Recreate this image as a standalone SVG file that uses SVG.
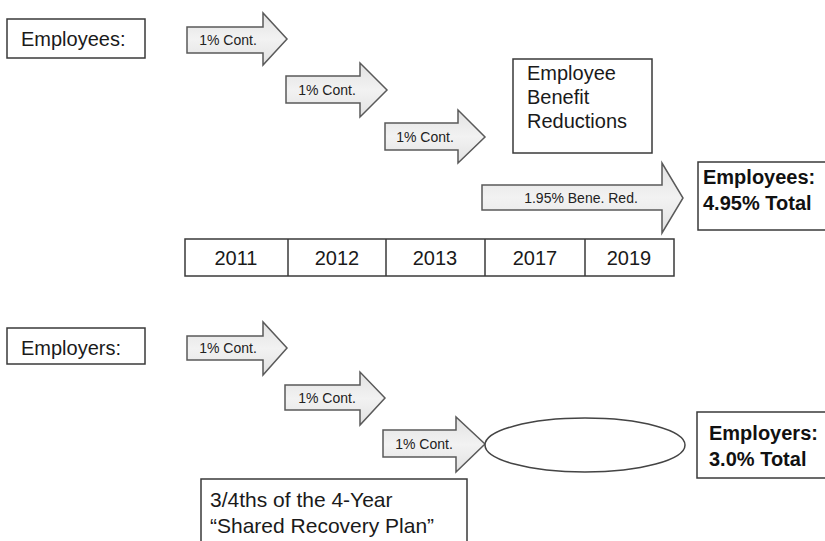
<svg xmlns="http://www.w3.org/2000/svg" width="825" height="541" viewBox="0 0 825 541">
  <defs>
    <linearGradient id="arrowFill" x1="0" y1="0" x2="0" y2="1">
      <stop offset="0" stop-color="#e2e2e2"/>
      <stop offset="0.5" stop-color="#f2f2f2"/>
      <stop offset="1" stop-color="#e2e2e2"/>
    </linearGradient>
  </defs>
  <style>
    .box { fill: #ffffff; stroke: #3a3a3a; stroke-width: 1.5; }
    .arrow { fill: url(#arrowFill); stroke: #5a5a5a; stroke-width: 1.5; stroke-linejoin: miter; }
    .txt { font-family: "Liberation Sans", Arial, sans-serif; font-size: 20px; fill: #1a1a1a; }
    .small { font-family: "Liberation Sans", Arial, sans-serif; font-size: 14px; fill: #222; text-anchor: middle; }
    .bold { font-family: "Liberation Sans", Arial, sans-serif; font-size: 20px; font-weight: bold; fill: #111; }
    .year { font-family: "Liberation Sans", Arial, sans-serif; font-size: 20px; fill: #1a1a1a; text-anchor: middle; }
    .ell { fill: #ffffff; stroke: #444; stroke-width: 1.5; }
  </style>

  <!-- Employees section -->
  <g id="employees-label">
    <rect class="box" x="7" y="19" width="138" height="39"/>
    <text class="txt" x="21" y="46">Employees:</text>
  </g>

  <g id="emp-arrow-2011">
    <path class="arrow" d="M187,27 H263 V13 L287,39 L263,65 V53 H187 Z"/>
    <text class="small" x="228" y="45">1% Cont.</text>
  </g>
  <g id="emp-arrow-2012">
    <path class="arrow" d="M286,76 H360 V63 L387,90 L360,117 V103 H286 Z"/>
    <text class="small" x="327" y="95">1% Cont.</text>
  </g>
  <g id="emp-arrow-2013">
    <path class="arrow" d="M385,123 H458 V110 L485,137 L458,163 V150 H385 Z"/>
    <text class="small" x="425" y="142">1% Cont.</text>
  </g>
  <g id="benefit-reductions">
    <rect class="box" x="513" y="59" width="139" height="94"/>
    <text class="txt" x="527" y="80">Employee</text>
    <text class="txt" x="527" y="104">Benefit</text>
    <text class="txt" x="527" y="128">Reductions</text>
  </g>
  <g id="emp-arrow-bene">
    <path class="arrow" d="M482,185 H662 V163 L683,198 L662,233 V210 H482 Z"/>
    <text class="small" x="581" y="203">1.95% Bene. Red.</text>
  </g>
  <g id="employees-total">
    <rect class="box" x="698" y="162" width="130" height="68"/>
    <text class="bold" x="703" y="184">Employees:</text>
    <text class="bold" x="703" y="210">4.95% Total</text>
  </g>

  <!-- Years -->
  <g id="years">
    <rect class="box" x="185" y="239" width="489" height="37"/>
    <line class="box" x1="288" y1="239" x2="288" y2="276"/>
    <line class="box" x1="386" y1="239" x2="386" y2="276"/>
    <line class="box" x1="485" y1="239" x2="485" y2="276"/>
    <line class="box" x1="585" y1="239" x2="585" y2="276"/>
    <text class="year" x="236" y="265">2011</text>
    <text class="year" x="337" y="265">2012</text>
    <text class="year" x="435" y="265">2013</text>
    <text class="year" x="535" y="265">2017</text>
    <text class="year" x="629" y="265">2019</text>
  </g>

  <!-- Employers section -->
  <g id="employers-label">
    <rect class="box" x="7" y="328" width="138" height="36"/>
    <text class="txt" x="21" y="355">Employers:</text>
  </g>
  <g id="er-arrow-2011">
    <path class="arrow" d="M187,336 H263 V322 L287,348 L263,375 V360 H187 Z"/>
    <text class="small" x="228" y="353">1% Cont.</text>
  </g>
  <g id="er-arrow-2012">
    <path class="arrow" d="M285,385 H360 V372 L385,398 L360,425 V410 H285 Z"/>
    <text class="small" x="327" y="403">1% Cont.</text>
  </g>
  <g id="er-arrow-2013">
    <path class="arrow" d="M383,430 H456 V417 L485,444 L456,472 V457 H383 Z"/>
    <text class="small" x="424" y="449">1% Cont.</text>
  </g>
  <g id="er-ellipse">
    <ellipse class="ell" cx="585" cy="445" rx="100" ry="27"/>
  </g>
  <g id="employers-total">
    <rect class="box" x="697" y="412" width="131" height="66"/>
    <text class="bold" x="709" y="440">Employers:</text>
    <text class="bold" x="709" y="466">3.0% Total</text>
  </g>
  <g id="shared-recovery">
    <rect class="box" x="201" y="479" width="266" height="70"/>
    <text class="txt" x="210" y="507" style="font-size:21px">3/4ths of the 4-Year</text>
    <text class="txt" x="210" y="533" style="font-size:21px">“Shared Recovery Plan”</text>
  </g>
</svg>
